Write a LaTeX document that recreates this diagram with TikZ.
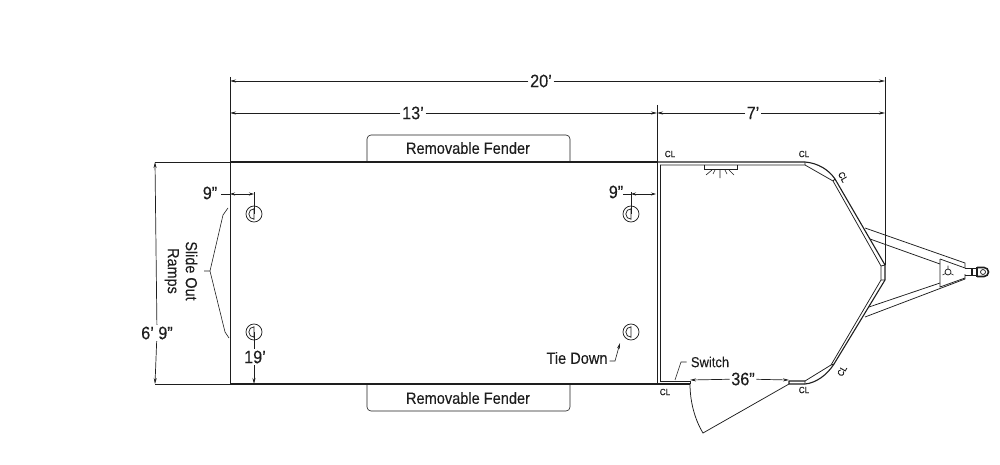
\documentclass[tikz,border=0pt]{standalone}
\usepackage{fontspec}
\setmainfont[FakeStretch=0.9,FakeBold=0.25]{Liberation Sans}
\usetikzlibrary{arrows.meta}
\definecolor{ink}{HTML}{1E1E1E}
\tikzset{
 wall/.style={draw=ink,line width=1.1pt,line join=round},
 side/.style={draw=ink,line width=0.9pt},
 thin line/.style={draw=ink,line width=0.75pt},
 hair/.style={draw=ink,line width=0.6pt},
 dimarrow/.style={draw=ink,line width=0.7pt,-{Stealth[length=6pt,width=3pt]}},
 lbl/.style={text=ink,font=\fontsize{18}{18}\selectfont,inner sep=1.5pt},
 midlbl/.style={text=ink,font=\fontsize{16.2}{16}\selectfont,inner sep=2pt},
 small/.style={text=ink,font=\fontsize{14.4}{14}\selectfont,inner sep=1pt},
 cl/.style={text=ink,font=\fontsize{9}{9}\selectfont,inner sep=0pt},
}
\newcommand{\tiedown}[2]{%
 \draw[thin line] (#1,#2) circle (8);
 \draw[thin line] (#1,#2+5.2) arc (90:270:5.2) -- cycle;
}
\begin{document}
\begin{tikzpicture}[x=1pt,y=-1pt]
\useasboundingbox (0,0) rectangle (1000,465);
% labels
\node[lbl] (L20) at (541,81) {20’};
\node[lbl] (L13) at (413,113) {13’};
\node[lbl] (L7) at (753,113) {7’};
\node[lbl] (L69) at (157,333) {6’ 9”};
\node[midlbl] (LF1) at (468,148) {Removable Fender};
\node[midlbl] (LF2) at (468,398) {Removable Fender};
\node[lbl,inner sep=0pt] (L9a) at (210,193) {9”};
\node[lbl,inner sep=0pt] (L9b) at (616,192) {9”};
\node[lbl] (L19) at (255,357) {19’};
\node[rotate=-90,align=center,text=ink,font=\fontsize{16}{18}\selectfont,inner sep=1pt] (LR) at (181,271) {Slide Out\\Ramps};
\node[midlbl,inner sep=0pt] (LT) at (577,358) {Tie Down};
\node[small] (LS) at (710,362) {Switch};
\node[lbl] (L36) at (743,379) {36”};
% coordinates
\coordinate (A) at (230,162);
\coordinate (B) at (657,162);
\coordinate (C) at (230,384);
\coordinate (D) at (657,384);
\coordinate (N1) at (885,265);
\coordinate (T20a) at (230,81);
\coordinate (T20b) at (885,81);
\coordinate (T13a) at (230,113);
\coordinate (T13m) at (657,113);
\coordinate (T13b) at (885,113);
\coordinate (Lft1) at (155,162);
\coordinate (Lft2) at (155,384);
% fenders
\draw[hair] (367,161) -- (367,139) arc (180:270:4) -- (566,135) arc (-90:0:4) -- (570,161);
\draw[hair] (367,384) -- (367,407) arc (180:90:4) -- (566,411) arc (90:0:4) -- (570,384);
% bed
\draw[wall] (A) -- (B) (C) -- (D);
\draw[side] (A) -- (C);
\draw[side] (B) -- (D);
\draw[side] (660,165) -- (660,381);
% nose outer
\draw[wall] (B) -- (805,162) .. controls (818,163) and (829,170) .. (835,179) -- (N1) -- (885,280)
  -- (834,364) .. controls (827,375) and (816,383) .. (805,384) -- (789,384) -- (789,381) -- (805,381);
\draw[thin line] (660,165) -- (805,165) -- (833,181) -- (881,266) -- (881,280) -- (831,365) -- (805,381);
\draw[thin line] (833,181) -- (835,179) (831,365) -- (834,364) (881,266)--(885,265) (881,280)--(885,280) (805,162)--(805,165) (805,381)--(805,384);
% door side
\draw[wall] (657,384) -- (690,384);
\draw[thin line] (660,381) -- (690,381) -- (690,384);
\coordinate (Hinge) at (690,384);
\coordinate (DoorTip) at (703,433);
\coordinate (Jamb) at (789,384);
\draw[thin line] (Hinge) .. controls (690,402) and (695,420) .. (DoorTip) -- (Jamb);
% light
\draw[thin line] (704,165) -- (704,169) -- (737,169) -- (737,165);
\draw[hair] (720,170) -- (720,178) (712,170) -- (706,175) (715,170) -- (713,174) (725,170) -- (727,174) (729,170) -- (734,175);
% tongue
\draw[thin line] (865,228) -- (965,263) -- (965,268);
\draw[thin line] (870,239) -- (940,264);
\draw[thin line] (865,317) -- (965,279) -- (965,274);
\draw[thin line] (869,307) -- (940,283);
\draw[thin line] (940,259) -- (940,287) -- (965,278);
\draw[thin line] (940,259) -- (965,268);
\draw[thin line] (948,272) circle (3);
\draw[hair] (948,265.5) -- (948,269) (942.5,275) -- (945.5,273.5) (953.5,275) -- (950.5,273.5);
\draw[wall] (965,268.5) -- (977,268.5) (965,275.5) -- (977,275.5) (972,268) -- (972,276) (977,267) -- (977,277);
\draw[draw=ink,line width=1.6pt] (977,267.5) -- (984,267.5) arc (-90:90:4.5) -- (977,276.5);
\draw[thin line] (983,272) circle (2.5);
% dimension lines
\draw[hair] (230,77) -- (230,162) (885,77) -- (N1) (657,105) -- (B);
\draw[dimarrow] (L20) -- (T20a);
\draw[dimarrow] (L20) -- (T20b);
\draw[dimarrow] (L13) -- (T13a);
\draw[dimarrow] (L13) -- (T13m);
\draw[dimarrow] (L7) -- (T13m);
\draw[dimarrow] (L7) -- (T13b);
\draw[hair] (Lft1) -- (A) (Lft2) -- (C);
\draw[dimarrow] (L69) -- (Lft1);
\draw[dimarrow] (L69) -- (Lft2);
% tie downs
\tiedown{254}{214}
\tiedown{254}{332}
\tiedown{631}{214}
\tiedown{631}{332}
% 9" dims
\coordinate (W1) at (230,194);
\coordinate (W2) at (254,194);
\coordinate (W3) at (631,194);
\coordinate (W4) at (656,194);
\coordinate (W1m) at (242,194);
\coordinate (W3m) at (644,194);
\draw[hair] (221,194) -- (230,194) (254,192) -- (254,214) (623,194) -- (631,194) (631,192) -- (631,214);
\draw[dimarrow,-{Stealth[length=5pt,width=3pt]}] (W1m) -- (W1);
\draw[dimarrow,-{Stealth[length=5pt,width=3pt]}] (W1m) -- (W2);
\draw[dimarrow,-{Stealth[length=5pt,width=3pt]}] (W3m) -- (W3);
\draw[dimarrow,-{Stealth[length=5pt,width=3pt]}] (W3m) -- (W4);
% 19
\coordinate (P19) at (254,332);
\coordinate (Q19) at (254,384);
\draw[hair] (P19) -- (L19.north -| P19);
\draw[dimarrow] (L19.south -| Q19) -- (Q19);
% slide out bracket
\draw[hair] (228,208) -- (223,215) -- (210,271) -- (225,332) -- (229,338) (210,271) -- (204,271);
% tie down leader
\draw[hair,-{Stealth[length=6pt,width=3pt]}] (LT.east) ++(2,3) -- (615,361) -- (620,343);
% switch leader
\draw[hair] (LS.west) ++(-3,0) -- (681,362) -- (675,380);
% 36
\coordinate (S1) at (690,380);
\coordinate (S2) at (789,380);
\draw[dimarrow] (L36) -- (S1);
\draw[dimarrow] (L36) -- (S2);
% CL marks
\node[cl] (c1) at (670,154) {CL};
\node[cl] (c2) at (804,154) {CL};
\node[cl,rotate=-60] (c3) at (843,177) {CL};
\node[cl] (c4) at (665,392) {CL};
\node[cl] (c5) at (804,390) {CL};
\node[cl,rotate=60] (c6) at (842,371) {CL};
\end{tikzpicture}
\end{document}
